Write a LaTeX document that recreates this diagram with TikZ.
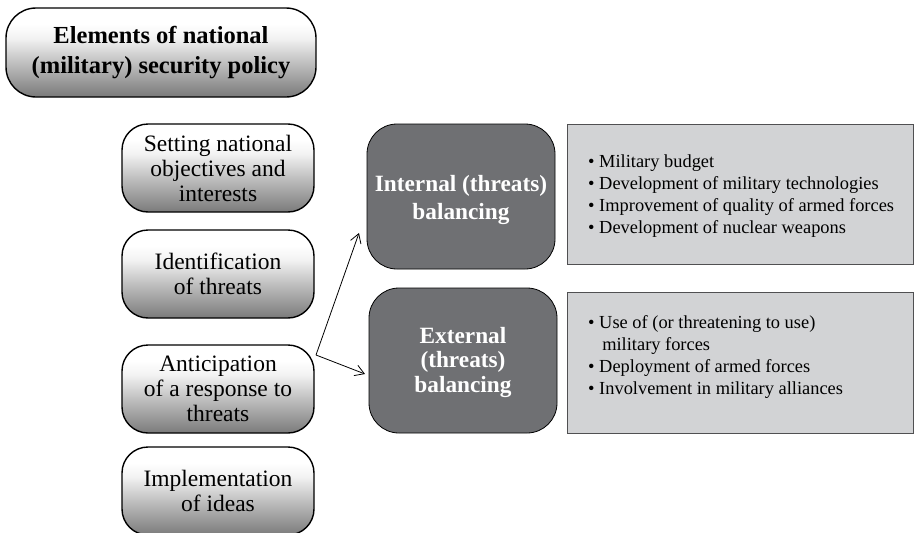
\documentclass[tikz,border=0pt]{standalone}
\usepackage{fontspec}
\setmainfont{Liberation Serif}
\usetikzlibrary{arrows.meta}
\pgfdeclareverticalshading{boxshade}{100bp}{color(0bp)=(black!52); color(25bp)=(black!52); color(45bp)=(black!24); color(58bp)=(black!5); color(66bp)=(white); color(100bp)=(white)}
\definecolor{darkbox}{RGB}{111,112,115}
\definecolor{listbox}{RGB}{210,211,213}
\definecolor{listborder}{RGB}{80,80,82}
\begin{document}
\begin{tikzpicture}[x=1pt,y=-1pt,
  titlebox/.style={draw=black, line width=1.4pt, rounded corners=30pt, shading=boxshade,
    minimum width=310pt, minimum height=89pt, align=center, inner sep=0pt,
    font=\fontsize{24.5}{30}\selectfont\bfseries},
  stagebox/.style={draw=black, line width=1.4pt, rounded corners=26pt, shading=boxshade,
    minimum width=192pt, minimum height=88pt, align=center, inner sep=0pt,
    font=\fontsize{23.5}{25}\selectfont},
  balbox/.style={draw=black, line width=0.8pt, rounded corners=30pt, fill=darkbox,
    minimum width=188pt, minimum height=145pt, inner sep=0pt},
  baltext/.style={align=center, inner sep=0pt, text=white, font=\bfseries},
  listbox/.style={draw=listborder, line width=0.8pt, fill=listbox,
    minimum width=346pt, inner sep=0pt},
  listtext/.style={align=left, inner sep=0pt, anchor=west, font=\fontsize{18.4}{21.8}\selectfont},
  arr/.style={draw=black, line width=0.8pt, -{Straight Barb[length=9pt,width=11pt,line width=0.8pt]}}
]
\useasboundingbox (0,0) rectangle (914,533);
\begin{scope}
\clip (0,0) rectangle (914,533);
\node[titlebox] (title) at (161,52.5) {Elements of national\\(military) security policy};
\node[stagebox] (s1) at (218,168) {Setting national\\objectives and\\interests};
\node[stagebox] (s2) at (218,274) {Identification\\of threats};
\node[stagebox] (s3) at (218,389) {Anticipation\\of a response to\\threats};
\node[stagebox] (s4) at (218,491) {Implementation\\of ideas};

\node[balbox] (int) at (461,196.5) {};
\node[balbox] (ext) at (463,360.5) {};
\node[baltext, font=\fontsize{23.3}{28}\selectfont\bfseries] (inttxt) at (461,200) {Internal (threats)\\balancing};
\node[baltext, font=\fontsize{23.3}{24.5}\selectfont\bfseries] (exttxt) at (463,362) {External\\(threats)\\balancing};

\node[listbox, minimum height=140pt] (intlist) at (740,194) {};
\node[listbox, minimum height=141pt] (extlist) at (740,362.5) {};
\node[listtext] (inttext) at (588,196) {• Military budget\\• Development of military technologies\\• Improvement of quality of armed forces\\• Development of nuclear weapons};
\node[listtext] (exttext) at (588,357) {• Use of (or threatening to use)\\\hphantom{• }\,military forces\\• Deployment of armed forces\\• Involvement in military alliances};

\coordinate (fork) at (316,355);
\coordinate (uptip) at (359,233);
\coordinate (downtip) at (365,374);
\draw[arr] (fork) -- (uptip);
\draw[arr] (fork) -- (downtip);
\end{scope}
\end{tikzpicture}
\end{document}
